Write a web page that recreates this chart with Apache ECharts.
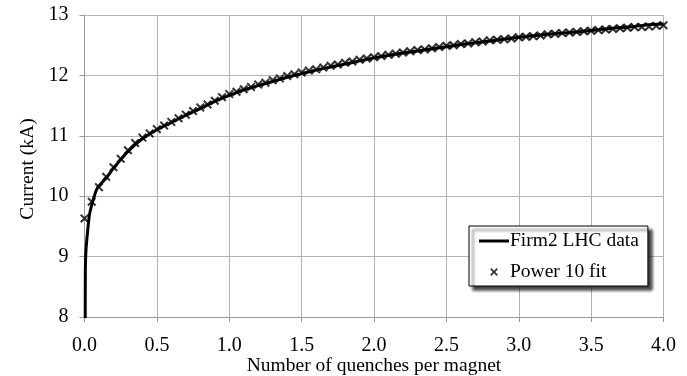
<!DOCTYPE html>
<html>
<head>
<meta charset="utf-8">
<script src="https://cdn.jsdelivr.net/npm/echarts@6/dist/echarts.min.js"></script>
<style>
  html, body { margin: 0; padding: 0; background: #fff; }
  #chart { width: 687px; height: 376px; }
</style>
</head>
<body>
<div id="chart"></div>
<script>
// measured curve (solid line)
var dataN = [0.005, 0.006, 0.01, 0.02, 0.035, 0.06, 0.09, 0.15, 0.2, 0.3, 0.4, 0.5, 0.6, 0.7, 0.8, 0.9,
  1.0, 1.1, 1.2, 1.3, 1.4, 1.5, 1.6, 1.7, 1.8, 1.9, 2.0, 2.2, 2.4, 2.6, 2.8, 3.0, 3.2, 3.4, 3.6, 3.8, 3.9, 4.0];
var dataCurrent = [7.98, 8.8, 9.1, 9.38, 9.7, 9.94, 10.14, 10.30, 10.46, 10.74, 10.95, 11.10, 11.22, 11.34, 11.45, 11.57,
  11.67, 11.76, 11.83, 11.90, 11.97, 12.03, 12.09, 12.14, 12.19, 12.24, 12.29, 12.37, 12.44, 12.51, 12.57, 12.63, 12.68, 12.72, 12.77, 12.81, 12.84, 12.85];

// fit markers (x)
var fitN = [0.00, 0.05, 0.10, 0.15, 0.20, 0.25, 0.30, 0.35, 0.40, 0.45, 0.50, 0.55, 0.60, 0.65, 0.70, 0.75, 0.80, 0.85, 0.90, 0.95,
  1.00, 1.05, 1.10, 1.15, 1.20, 1.25, 1.30, 1.35, 1.40, 1.45, 1.50, 1.55, 1.60, 1.65, 1.70, 1.75, 1.80, 1.85, 1.90, 1.95,
  2.00, 2.05, 2.10, 2.15, 2.20, 2.25, 2.30, 2.35, 2.40, 2.45, 2.50, 2.55, 2.60, 2.65, 2.70, 2.75, 2.80, 2.85, 2.90, 2.95,
  3.00, 3.05, 3.10, 3.15, 3.20, 3.25, 3.30, 3.35, 3.40, 3.45, 3.50, 3.55, 3.60, 3.65, 3.70, 3.75, 3.80, 3.85, 3.90, 3.95, 4.00];
var fitCurrent = [9.63, 9.91, 10.15, 10.32, 10.48, 10.62, 10.76, 10.88, 10.97, 11.04, 11.11, 11.17, 11.23, 11.29, 11.35, 11.41, 11.47, 11.52, 11.58, 11.64,
  11.69, 11.73, 11.77, 11.81, 11.85, 11.88, 11.92, 11.95, 11.99, 12.02, 12.05, 12.08, 12.10, 12.13, 12.16, 12.18, 12.21, 12.23, 12.26, 12.28,
  12.30, 12.32, 12.34, 12.36, 12.38, 12.40, 12.42, 12.43, 12.45, 12.47, 12.49, 12.50, 12.52, 12.53, 12.55, 12.56, 12.58, 12.59, 12.60, 12.61,
  12.63, 12.64, 12.65, 12.66, 12.68, 12.69, 12.70, 12.71, 12.72, 12.73, 12.74, 12.75, 12.76, 12.77, 12.78, 12.79, 12.80, 12.80, 12.81, 12.82, 12.83];

var seriesNames = ['Firm2 LHC data', 'Power 10 fit'];

(function () {
  var dom = document.getElementById('chart');
  var myChart = echarts.init(dom);

  var font = 'Liberation Serif';
  var crossIcon = 'path://M0,1.6L1.6,0L5,3.4L8.4,0L10,1.6L6.6,5L10,8.4L8.4,10L5,6.6L1.6,10L0,8.4L3.4,5Z';
  // same cross with empty margin round it, so the legend draws it small
  var crossLegend = 'path://M-4,-4M0,1.6L1.6,0L5,3.4L8.4,0L10,1.6L6.6,5L10,8.4L8.4,10L5,6.6L1.6,10L0,8.4L3.4,5ZM14,14';

  var lineData = dataN.map(function (n, i) { return [n, dataCurrent[i]]; });
  var fitData = fitN.map(function (n, i) { return [n, fitCurrent[i]]; });

  var option = {
    animation: false,
    textStyle: { fontFamily: font },
    grid: {
      left: 84.5,
      top: 15,
      right: 23.5,
      bottom: 59,
      containLabel: false,
      outerBoundsMode: 'none'
    },
    legend: {
      orient: 'vertical',
      left: 469,
      top: 226,
      padding: [5, 9, 4, 10],
      itemWidth: 30,
      itemHeight: 14,
      itemGap: 11,
      backgroundColor: '#fff',
      borderColor: '#000',
      borderWidth: 1,
      shadowColor: 'rgba(0,0,0,0.75)',
      shadowBlur: 3,
      shadowOffsetX: 4,
      shadowOffsetY: 4,
      textStyle: {
        fontFamily: font,
        fontSize: 19.5,
        color: '#000',
        lineHeight: 20,
        padding: [0, 0, 0, -4]
      },
      data: [
        { name: seriesNames[0], icon: 'path://M0,0L30,0L30,3L0,3Z', itemStyle: { color: '#000' } },
        { name: seriesNames[1], icon: crossLegend, itemStyle: { color: '#000' } }
      ]
    },
    xAxis: {
      type: 'value',
      min: 0,
      max: 4,
      interval: 0.5,
      name: 'Number of quenches per magnet',
      nameLocation: 'middle',
      nameGap: 39,
      nameMoveOverlap: false,
      nameTextStyle: { fontFamily: font, fontSize: 19.5, color: '#000' },
      axisLine: { show: true, lineStyle: { color: '#999', width: 1 } },
      axisTick: { show: true, length: 5, lineStyle: { color: '#999' } },
      axisLabel: {
        fontFamily: font,
        fontSize: 20,
        color: '#000',
        margin: 19,
        formatter: function (v) { return v.toFixed(1); }
      },
      splitLine: { show: true, lineStyle: { color: '#b3b3b3', width: 1 } }
    },
    yAxis: {
      type: 'value',
      min: 8,
      max: 13,
      interval: 1,
      name: 'Current (kA)',
      nameLocation: 'middle',
      nameGap: 47,
      nameMoveOverlap: false,
      nameTextStyle: { fontFamily: font, fontSize: 19.5, color: '#000', padding: [0, 6, 0, 0] },
      axisLine: { show: true, lineStyle: { color: '#999', width: 1 } },
      axisTick: { show: true, length: 5, lineStyle: { color: '#999' } },
      axisLabel: {
        fontFamily: font,
        fontSize: 20,
        color: '#000',
        margin: 16
      },
      splitLine: { show: true, lineStyle: { color: '#b3b3b3', width: 1 } }
    },
    series: [{
      name: seriesNames[0],
      type: 'line',
      data: lineData,
      smooth: 0.3,
      symbol: 'none',
      lineStyle: { color: '#000', width: 3 },
      itemStyle: { color: '#000' },
      z: 2
    }, {
      name: seriesNames[1],
      type: 'scatter',
      data: fitData,
      symbol: crossIcon,
      symbolSize: 9,
      itemStyle: { color: '#000' },
      z: 3
    }]
  };

  if (option && typeof option === 'object') {
    myChart.setOption(option);
  }
})();
</script>
</body>
</html>
